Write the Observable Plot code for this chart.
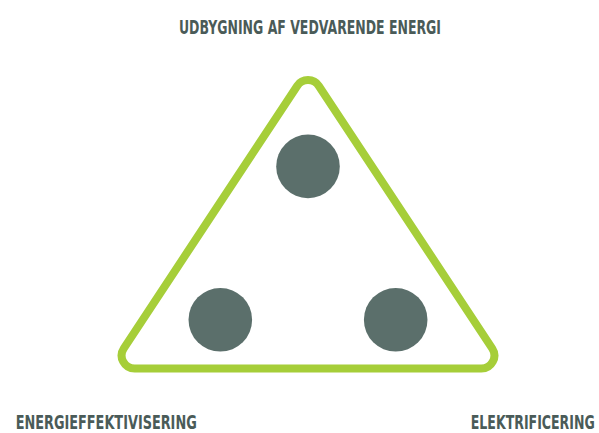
<!DOCTYPE html>
<html>
<head>
<meta charset="utf-8">
<script src="https://cdn.jsdelivr.net/npm/d3@7"></script>
<script src="https://cdn.jsdelivr.net/npm/@observablehq/plot@0.6"></script>
<style>
  html, body { margin: 0; padding: 0; background: #ffffff; }
  #chart svg { display: block; }
</style>
</head>
<body>
<div id="chart"></div>
<script>
// ---- data (abstract triangle units) ----
const vertexX = [0, 1, 0.5];
const vertexY = [0, 0, 1];

const pillarLabels = ["ENERGIEFFEKTIVISERING", "ELEKTRIFICERING", "UDBYGNING AF VEDVARENDE ENERGI"];
const circleX = [0.278, 0.722, 0.5];
const circleY = [0.163, 0.163, 0.676];
const labelX = [-0.24, 1.226, 0.505];
const labelY = [-0.181, -0.181, 1.139];

// ---- tables built from the arrays ----
const triangle = vertexX.map((x, i) => ({x, y: vertexY[i]}));
const circles = circleX.map((x, i) => ({x, y: circleY[i]}));
const labels = pillarLabels.map((text, i) => ({text, x: labelX[i], y: labelY[i]}));

// ---- styles ----
const green = "#a6ce39";
const slate = "#5b6f6b";
const textColor = "#4a5b58";
const fontFamily = "'Liberation Sans Narrow', 'DejaVu Sans Condensed', 'Roboto Condensed', sans-serif";
const labelStyle = {
  fontSize: 13.5,
  stretchY: 1.4,
  widths: {"ENERGIEFFEKTIVISERING": 181, "ELEKTRIFICERING": 124, "UDBYGNING AF VEDVARENDE ENERGI": 262}
};

// closed polygon curve with rounded corners
function roundedClosed(radius) {
  return (context) => {
    let pts = [];
    return {
      areaStart() {}, areaEnd() {},
      lineStart() { pts = []; },
      point(x, y) { pts.push([+x, +y]); },
      lineEnd() {
        const n = pts.length;
        if (n < 3) return;
        const a = pts[n - 1], b = pts[0];
        context.moveTo((a[0] + b[0]) / 2, (a[1] + b[1]) / 2);
        for (let i = 0; i < n; i++) {
          const p = pts[i], q = pts[(i + 1) % n];
          context.arcTo(p[0], p[1], q[0], q[1], radius);
        }
        context.closePath();
      }
    };
  };
}

const textCommon = {x: "x", y: "y", text: "text", fill: textColor, fontSize: labelStyle.fontSize, fontWeight: "bold", fontFamily};

const chart = Plot.plot({
  width: 599,
  height: 433,
  margin: 0,
  style: {background: "#ffffff", overflow: "visible"},
  x: {domain: [0, 1], range: [110, 505], axis: null},
  y: {domain: [0, 1], range: [368, 69], axis: null},
  marks: [
    Plot.line(triangle, {x: "x", y: "y", curve: roundedClosed(13), stroke: green, strokeWidth: 8, strokeLinejoin: "round"}),
    Plot.dot(circles, {x: "x", y: "y", r: 31.8, fill: slate, stroke: null}),
    Plot.text(labels.slice(0, 1), {...textCommon, textAnchor: "start"}),
    Plot.text(labels.slice(1, 2), {...textCommon, textAnchor: "end"}),
    Plot.text(labels.slice(2, 3), {...textCommon, textAnchor: "middle"})
  ]
});

document.getElementById("chart").appendChild(chart);

// condensed, tall lettering as in the reference
chart.querySelectorAll("text").forEach(t => {
  const w = labelStyle.widths[t.textContent.trim()];
  if (!w) return;
  t.setAttribute("textLength", w);
  t.setAttribute("lengthAdjust", "spacingAndGlyphs");
  const tr = t.getAttribute("transform");
  const s = labelStyle.stretchY;
  if (tr) {
    t.setAttribute("transform", `${tr} scale(1,${s})`);
  } else {
    const y = +t.getAttribute("y") || 0;
    t.setAttribute("transform", `translate(0,${y}) scale(1,${s}) translate(0,${-y})`);
  }
});
</script>
</body>
</html>
